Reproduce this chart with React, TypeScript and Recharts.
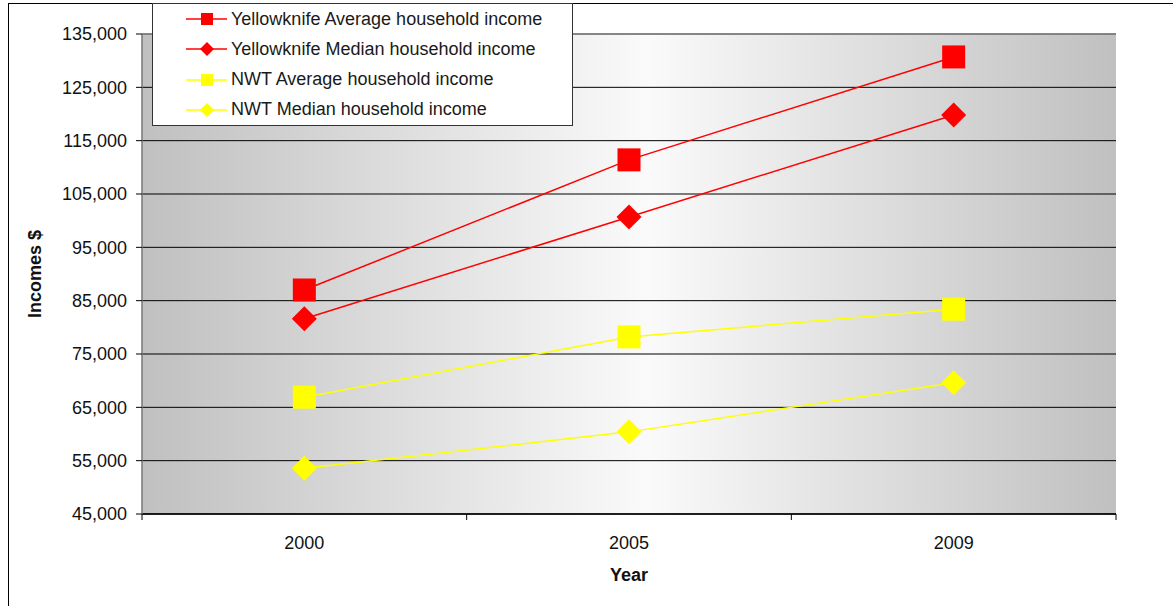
import React from "react";
import { LineChart, Line, XAxis, YAxis, CartesianGrid, ReferenceLine } from "recharts";

// Survey years shown along the x axis
const years = ["2000", "2005", "2009"];

// Household incomes in dollars
const ykAverage = [87000, 111400, 130700];
const ykMedian = [81600, 100700, 119800];
const nwtAverage = [66900, 78200, 83400];
const nwtMedian = [53600, 60400, 69600];

const yTicks = [45000, 55000, 65000, 75000, 85000, 95000, 105000, 115000, 125000, 135000];

const seriesInfo = [
  { key: "ykAvg", name: "Yellowknife Average household income", color: "#ff0000", shape: "square" },
  { key: "ykMed", name: "Yellowknife Median household income", color: "#ff0000", shape: "diamond" },
  { key: "nwtAvg", name: "NWT Average household income", color: "#ffff00", shape: "square" },
  { key: "nwtMed", name: "NWT Median household income", color: "#ffff00", shape: "diamond" },
];

// each year sits in the middle of its band on a 0..n numeric axis
const rows = years.map((year, i) => ({
  year,
  pos: i + 0.5,
  ykAvg: ykAverage[i],
  ykMed: ykMedian[i],
  nwtAvg: nwtAverage[i],
  nwtMed: nwtMedian[i],
}));

const xTicks: number[] = [];
for (let i = 0; i <= years.length; i++) {
  xTicks.push(i);
  if (i < years.length) xTicks.push(i + 0.5);
}

const FONT = "'Liberation Sans', Arial, sans-serif";
const FS = 18;

const makeDot = (shape: string, color: string) => (props: any) => {
  const { cx, cy, index } = props;
  if (cx == null || cy == null) return <g key={index} />;
  if (shape === "square") {
    const s = 11.5;
    return <rect key={index} x={cx - s} y={cy - s} width={s * 2} height={s * 2} fill={color} />;
  }
  const d = 12.5;
  return (
    <polygon
      key={index}
      points={`${cx},${cy - d} ${cx + d},${cy} ${cx},${cy + d} ${cx - d},${cy}`}
      fill={color}
    />
  );
};

const XTick = (props: any) => {
  const { x, y, payload } = props;
  const v = payload.value as number;
  if (Number.isInteger(v)) {
    return <line x1={x} y1={y - 8} x2={x} y2={y - 2} stroke="#000" strokeWidth={1} />;
  }
  const label = years[Math.floor(v)];
  return (
    <text x={x} y={y + 27} textAnchor="middle" fontSize={FS} fontFamily={FONT} fill="#111">
      {label}
    </text>
  );
};

const LegendBox = () => (
  <div
    style={{
      position: "absolute",
      left: 152,
      top: 3,
      width: 419,
      height: 121,
      background: "#fff",
      border: "1px solid #333",
      fontFamily: FONT,
      fontSize: FS,
      color: "#1a1a1a",
    }}
  >
    {seriesInfo.map((s, i) => (
      <div
        key={s.key}
        style={{ position: "absolute", left: 0, top: 0 + i * 30.3, height: 30, display: "flex", alignItems: "center" }}
      >
        <svg width={78} height={30} style={{ display: "block" }}>
          <line x1={33} y1={15} x2={74} y2={15} stroke={s.color} strokeWidth={1.5} />
          {s.shape === "square" ? (
            <rect x={48} y={9} width={12} height={12} fill={s.color} />
          ) : (
            <polygon points="54,8 61,15 54,22 47,15" fill={s.color} />
          )}
        </svg>
        <span style={{ whiteSpace: "nowrap" }}>{s.name}</span>
      </div>
    ))}
  </div>
);

export default function App() {
  return (
    <div style={{ position: "absolute", left: 0, top: 0, width: 1173, height: 606, overflow: "hidden", background: "#fff" }}>
      <div
        style={{
          position: "absolute",
          left: 8,
          top: 3,
          width: 1200,
          height: 700,
          border: "1.5px solid #000",
        }}
      />
      <div style={{ position: "absolute", left: 0, top: 0 }}>
        <LineChart
          width={1173}
          height={606}
          data={rows}
          margin={{ top: 34, right: 57, bottom: 0, left: 0 }}
        >
          <defs>
            <linearGradient id="plotBg" x1="0" y1="0" x2="1" y2="0">
              <stop offset="0%" stopColor="#c0c0c0" />
              <stop offset="52%" stopColor="#fafafa" />
              <stop offset="100%" stopColor="#c0c0c0" />
            </linearGradient>
          </defs>
          <CartesianGrid
            yAxisId="left"
            vertical={false}
            stroke="#000"
            strokeWidth={1}
            fill="url(#plotBg)"
            fillOpacity={1}
          />
          <XAxis
            type="number"
            dataKey="pos"
            domain={[0, years.length]}
            ticks={xTicks}
            interval={0}
            height={92}
            axisLine={{ stroke: "#000", strokeWidth: 1.5 }}
            tickLine={false}
            tick={<XTick />}
            label={{
              content: (p: any) => {
                const vb = p.viewBox;
                return (
                  <text
                    x={vb.x + vb.width / 2}
                    y={vb.y + 67}
                    textAnchor="middle"
                    fontSize={FS}
                    fontWeight="bold"
                    fontFamily={FONT}
                    fill="#111"
                  >
                    Year
                  </text>
                );
              },
            }}
          />
          <YAxis
            yAxisId="left"
            type="number"
            domain={[45000, 135000]}
            ticks={yTicks}
            interval={0}
            width={142}
            axisLine={{ stroke: "#777", strokeWidth: 1.5 }}
            tickLine={{ stroke: "#000" }}
            tickSize={6}
            tickMargin={9}
            tick={{ fontSize: FS, fontFamily: FONT, fill: "#111" }}
            tickFormatter={(v: number) => v.toLocaleString("en-US")}
            label={{
              content: (p: any) => {
                const vb = p.viewBox;
                const cx = 35;
                const cy = vb.y + vb.height / 2;
                return (
                  <text
                    x={cx}
                    y={cy}
                    transform={`rotate(-90 ${cx} ${cy})`}
                    textAnchor="middle"
                    dominantBaseline="central"
                    fontSize={FS}
                    fontWeight="bold"
                    fontFamily={FONT}
                    fill="#111"
                  >
                    Incomes $
                  </text>
                );
              },
            }}
          />
          <YAxis
            yAxisId="right"
            orientation="right"
            type="number"
            domain={[45000, 135000]}
            width={0}
            tick={false}
            tickLine={false}
            axisLine={{ stroke: "#8a8a8a", strokeWidth: 1.5 }}
          />
          <ReferenceLine yAxisId="left" y={135000} stroke="#8a8a8a" strokeWidth={1.5} />
          {seriesInfo.map((s) => (
            <Line
              key={s.key}
              yAxisId="left"
              type="linear"
              dataKey={s.key}
              name={s.name}
              stroke={s.color}
              strokeWidth={1.5}
              dot={makeDot(s.shape, s.color)}
              activeDot={false}
              isAnimationActive={false}
            />
          ))}
        </LineChart>
      </div>
      <LegendBox />
    </div>
  );
}
